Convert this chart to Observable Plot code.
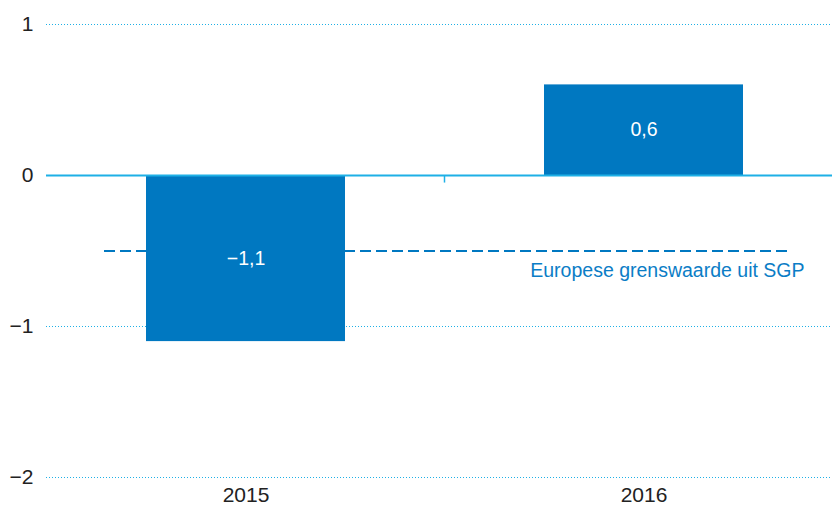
<!DOCTYPE html>
<html>
<head>
<meta charset="utf-8">
<script src="https://cdn.jsdelivr.net/npm/d3@7"></script>
<script src="https://cdn.jsdelivr.net/npm/@observablehq/plot@0.6"></script>
<style>
  html, body { margin: 0; padding: 0; background: #fff; }
  #chart svg { display: block; }
</style>
</head>
<body>
<div id="chart"></div>
<script>
const years = ["2015", "2016"];
const values = [-1.1, 0.6];
const valueLabels = ["\u22121,1", "0,6"];
const yTicks = [1, 0, -1, -2];
const yTickLabels = ["1", "0", "\u22121", "\u22122"];
const gridValues = [1, -1, -2];
const limitValue = [-0.5];
const limitLabel = "Europese grenswaarde uit SGP";

const data = years.map((y, i) => ({year: y, value: values[i], label: valueLabels[i]}));

const blue = "#0078c1";
const light = "#1eb0e6";

const chart = Plot.plot({
  width: 832,
  height: 510,
  marginLeft: 46,
  marginRight: 0,
  marginTop: 24,
  marginBottom: 33,
  style: {fontFamily: "'Liberation Sans', Arial, sans-serif", fontSize: "21px", color: "#222"},
  x: {domain: years, range: [46, 842], paddingInner: 0.5, paddingOuter: 0.25, label: null, tickSize: 0, tickPadding: 10},
  y: {domain: [-2, 1], ticks: yTicks, tickFormat: (d) => yTickLabels[yTicks.indexOf(d)], label: null, tickSize: 0, tickPadding: 13},
  marks: [
    Plot.ruleY(gridValues, {stroke: light, strokeWidth: 1, strokeDasharray: "1,2"}),
    Plot.barY(data, {x: "year", y: "value", fill: blue}),
    Plot.ruleY([0], {stroke: light, strokeWidth: 2}),
    Plot.ruleX([years[0]], {x: (d) => d, y1: 0, y2: -0.05, dx: 198.5, stroke: light, strokeWidth: 1.5}),
    Plot.ruleY(limitValue, {x1: () => years[0], x2: () => years[1], insetLeft: -42, insetRight: -44, stroke: blue, strokeWidth: 2, strokeDasharray: "11,5"}),
    Plot.text(data, {x: "year", y: (d) => d.value / 2, text: "label", fill: "white", fontSize: 19.5, fontFamily: "'Liberation Sans', Arial, sans-serif"}),
    Plot.text(limitValue, {y: (d) => d, text: () => limitLabel, frameAnchor: "right", dx: -28, dy: 20, textAnchor: "end", fill: "#0b7dc6", fontSize: 19.5, fontFamily: "'Liberation Sans', Arial, sans-serif"})
  ]
});
document.getElementById("chart").appendChild(chart);
</script>
</body>
</html>
